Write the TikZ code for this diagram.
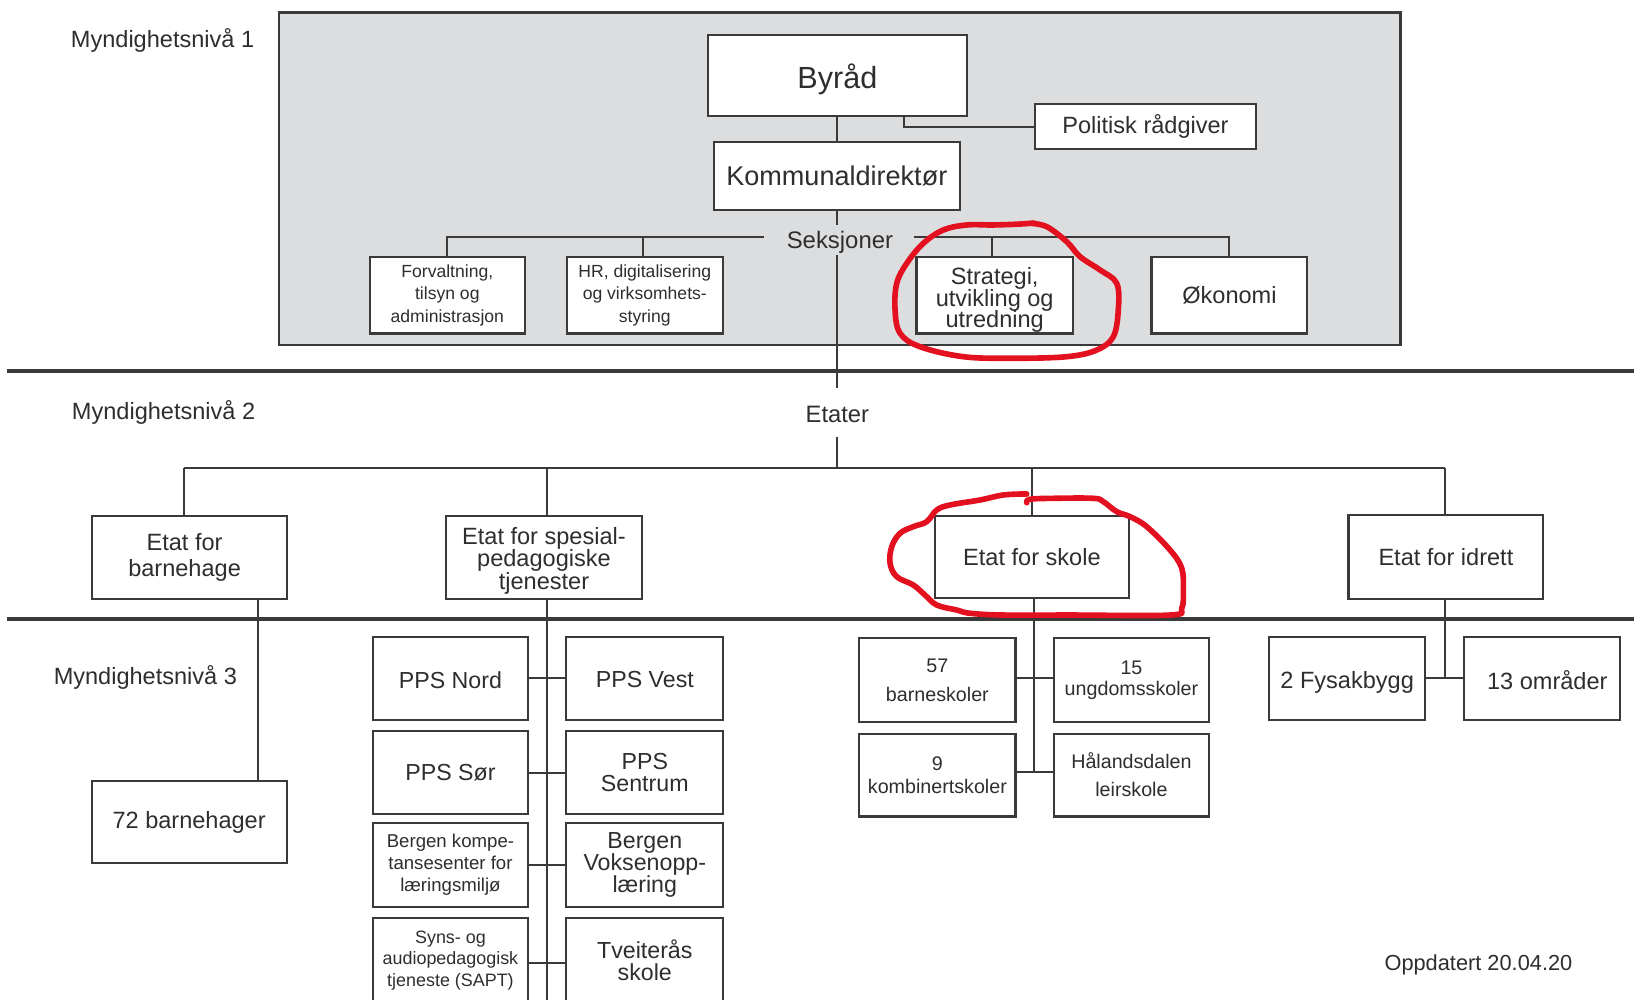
\documentclass[tikz,border=0pt]{standalone}
\usepackage{fontspec}
\setmainfont{Liberation Sans}
\definecolor{ink}{HTML}{2E2E2E}
\definecolor{ln}{HTML}{3A3A3A}
\definecolor{panelgray}{HTML}{DCDDDF}
\definecolor{redpen}{HTML}{E3101F}
\newlength\uu
\setlength\uu{0.0104209cm}
\newcommand\fs[2]{\fontsize{#1}{#2}\selectfont\lineskiplimit=-20pt\relax}
\newcommand\lowr[2]{\raisebox{-#1}[\height][\depth]{#2}}
\newcommand\obox[7]{\node[bx, font=#7, minimum width={(#4-#2)*\uu}, minimum height={(#5-#3)*\uu}] (#1) at ({(#2+#4)/2},{(#3+#5)/2}) {#6};}
\tikzset{
  bx/.style={draw=ln, line width=0.6pt, fill=white, inner sep=0pt, outer sep=0pt, align=center, text=ink},
  conn/.style={draw=ln, line width=0.6pt},
  lbl/.style={inner sep=0pt, text=ink, anchor=mid},
  divider/.style={draw=ln, line width=1.1pt},
  pen/.style={draw=redpen, line width=1.6pt, line cap=round, line join=round},
}
\begin{document}
\begin{tikzpicture}[x=\uu, y=-\uu]
\useasboundingbox (0,0) rectangle (1568,959);
\clip (0,0) rectangle (1568,959);
\fill[white] (0,0) rectangle (1568,959);

% level 1 panel
\draw[draw=ln, line width=0.7pt, fill=panelgray] (267.5,12.2) rectangle (1344,331);

% dividers
\draw[divider] (7,356) -- (1568,356);
\draw[divider] (7,594) -- (1568,594);

% labels
\node[lbl, font=\fs{6.7}{8}] (m1) at (156,37) {Myndighetsnivå 1};
\node[lbl, font=\fs{6.7}{8}] (m2) at (157,394) {Myndighetsnivå 2};
\node[lbl, font=\fs{6.7}{8}] (m3) at (139.5,648) {Myndighetsnivå 3};
\node[lbl, font=\fs{6.2}{8}] (upd) at (1418.7,922) {Oppdatert 20.04.20};
\node[lbl, font=\fs{6.8}{8}] (seks) at (806,229.5) {Seksjoner};
\node[lbl, font=\fs{6.75}{8}] (etater) at (803.5,397) {Etater};

% level 1 boxes
\obox{byrad}{679}{34}{928}{111}{\lowr{1.2pt}{Byråd}}{\fs{8.7}{10}}
\obox{polit}{993}{100}{1205.5}{143}{Politisk rådgiver}{\fs{6.7}{8}}
\obox{komm}{685}{136}{921}{201.5}{Kommunaldirektør}{\fs{7.7}{9}}
\obox{forv}{355}{246.5}{503.5}{320}{Forvaltning,\\tilsyn og\\administrasjon}{\fs{5}{6.35}}
\obox{hr}{544}{246.5}{693.5}{320}{HR, digitalisering\\og virksomhets-\\styring}{\fs{5}{6.35}}
\obox{strat}{879.5}{246.5}{1029.5}{320}{\rule{0pt}{7.6pt}Strategi,\\utvikling og\\utredning}{\fs{6.7}{6.1}}
\obox{okon}{1105}{246.5}{1254.5}{320}{Økonomi}{\fs{6.7}{8}}

% level 1 connectors
\coordinate (sL) at (733.6,227.7);
\coordinate (sR) at (876.7,227.7);
\coordinate (tr1) at (803.5,244.7);
\coordinate (tr2) at (803.5,372.6);
\coordinate (tr3) at (803.5,419.7);
\coordinate (hL) at (176.7,449.4);
\coordinate (hR) at (1386.2,449.4);
\draw[conn] (byrad.south) -- (byrad.south |- komm.north);
\draw[conn] (byrad.south) ++(64,0) |- (polit.west);
\draw[conn] (komm.south) -- ++(0,14);
\draw[conn] (forv.north) |- (sL);
\draw[conn] (hr.north) ++(-1.7,0) -- ++(0,-18.8);
\draw[conn] (sR) -| (okon.north);
\draw[conn] (strat.north) ++(-3,0) -- ++(0,-18.8);
\draw[conn] (tr1) -- (tr2);

% level 2
\draw[conn] (tr3) -- (tr3 |- hL);
\draw[conn] (hL) -- (hR);
\obox{ebh}{88}{495}{275}{574.5}{Etat for\hspace*{2.6pt}\\barnehage\hspace*{2.6pt}}{\fs{6.7}{7.4}}
\obox{esp}{428}{495}{616}{574.5}{\rule{0pt}{6.9pt}Etat for spesial-\\pedagogiske\\tjenester}{\fs{6.7}{6.35}}
\obox{esk}{897}{495.5}{1083.5}{573.5}{Etat for skole}{\fs{6.7}{8}}
\obox{eid}{1294}{494.5}{1481}{574.5}{Etat for idrett}{\fs{6.7}{8}}
\draw[conn] (hL) -- (hL |- ebh.north);
\draw[conn] ([xshift=2.5\uu]esp.north) -- ([xshift=2.5\uu]esp.north |- hL);
\draw[conn] (esk.north) -- (esk.north |- hL);
\draw[conn] (hR) -- (hR |- eid.north);

% level 3 : barnehage
\obox{b72}{88}{749.5}{275}{828.5}{72 barnehager}{\fs{6.7}{8}}
\draw[conn] ([xshift=66\uu]ebh.south) -- ([xshift=66\uu]ebh.south |- b72.north);

% level 3 : spesialpedagogiske
\coordinate (spb) at (524.5,970);
\draw[conn] ([xshift=2.5\uu]esp.south) -- (spb);
\obox{ppsn}{357.5}{611}{507}{690.5}{\lowr{0.5pt}{PPS Nord}}{\fs{6.6}{8}}
\obox{ppsv}{543.5}{611}{694}{690.5}{\lowr{0.5pt}{PPS Vest}}{\fs{6.6}{8}}
\obox{ppss}{357.5}{701.5}{507}{781.5}{PPS Sør}{\fs{6.6}{8}}
\obox{ppsc}{543.5}{701.5}{694}{781.5}{PPS\\Sentrum}{\fs{6.6}{6.3}}
\obox{bkl}{357.5}{790}{507}{870}{Bergen kompe-\\tansesenter for\\læringsmiljø}{\fs{5.3}{6.2}}
\obox{bvo}{543.5}{790}{694}{870}{Bergen\\Voksenopp-\\læring}{\fs{6.6}{6.2}}
\obox{sapt}{357.5}{881}{507}{962}{Syns- og\\audiopedagogisk\\tjeneste (SAPT)}{\fs{5.1}{6.1}}
\obox{tvs}{543.5}{881}{694}{962}{Tveiterås\\skole}{\fs{6.6}{6.2}}
\draw[conn] (ppsn.east) -- (ppsv.west);
\draw[conn] (ppss.east) -- (ppsc.west);
\draw[conn] (bkl.east) -- (bvo.west);
\draw[conn] ([yshift=-2.5\uu]sapt.east) -- ([yshift=-2.5\uu]tvs.west);

% level 3 : skole
\obox{s57}{824.5}{612.5}{974.5}{692.5}{57\\barneskoler}{\fs{5.6}{8.2}}
\obox{s15}{1011}{612.5}{1160.5}{692.5}{15\\ungdomsskoler}{\fs{5.6}{6}}
\obox{s9}{824.5}{704}{974.5}{783.5}{9\\kombinertskoler}{\fs{5.6}{6.5}}
\obox{shl}{1011}{704}{1160.5}{783.5}{Hålandsdalen\\leirskole}{\fs{5.6}{8}}
\draw[conn] ([xshift=2\uu]esk.south) -- ([xshift=2\uu,yshift=2.6\uu]esk.south |- s9.east);
\draw[conn] ([yshift=1.6\uu]s57.east) -- ([yshift=1.6\uu]s15.west);
\draw[conn] ([yshift=2.6\uu]s9.east) -- ([yshift=2.6\uu]shl.west);

% level 3 : idrett
\obox{fys}{1218}{611.5}{1367.5}{690.5}{\lowr{1.1pt}{2 Fysakbygg}}{\fs{6.7}{8}}
\obox{omr}{1405}{611.5}{1554.5}{690.5}{\lowr{0.6pt}{\hspace*{3pt}13 områder}}{\fs{6.7}{8}}
\draw[conn] ([xshift=-1.3\uu]eid.south) -- ([xshift=-1.3\uu]eid.south |- fys.east);
\draw[conn] (fys.east) -- (omr.west);

% red hand-drawn marks
\draw[pen] plot[smooth, tension=0.6] coordinates {(988.4,214.3) (1004.4,217.5) (1023.6,231.9) (1036.4,246.3) (1055.6,259.1) (1071.6,271.9) (1073.1,297.5) (1068.3,323.1) (1052.4,335.9) (1023.6,342.3) (972.4,343.8) (924.4,342.3) (882.8,332.7) (863.7,319.8) (858.9,297.5) (860.5,271.9) (870.1,252.7) (886.0,233.5) (905.2,220.7) (927.7,215.9) (953.2,215.9) (978.8,215.0) (992,214)};
\draw[pen] plot[smooth, tension=0.6] coordinates {(985.2,474.0) (962.8,475.0) (940.4,479.8) (911.6,484.6) (898.9,489.4) (889.3,500.6) (876.4,505.4) (863.6,511.8) (855.7,524.6) (854.1,540.6) (860.5,553.4) (876.4,561.4) (887.6,571.0) (898.9,580.6) (918.1,585.4) (930.8,588.5) (962.8,590.2) (1026.8,590.2) (1122.8,590.2) (1134.0,583.7) (1135.5,566.2) (1134.0,545.3) (1122.8,527.8) (1100.4,505.4) (1084.4,495.8) (1071.6,491.0) (1058.7,481.4) (1049.2,478.2) (1010.8,478.2) (988.4,479.1) (985.2,482.4)};
\end{tikzpicture}
\end{document}
